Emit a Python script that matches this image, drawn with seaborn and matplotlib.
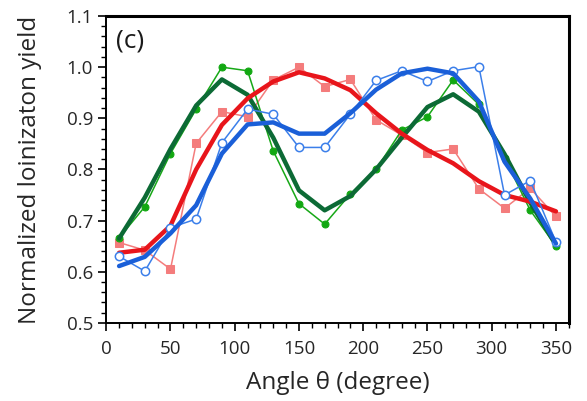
import numpy as np
import pandas as pd
import seaborn as sns
import matplotlib.pyplot as plt
from matplotlib.ticker import MultipleLocator

# angles (degree)
angle = [10, 30, 50, 70, 90, 110, 130, 150, 170, 190, 210, 230, 250, 270, 290, 310, 330, 350]

# green: measured (dots) and smoothed (thick)
green_pts = [0.666, 0.727, 0.831, 0.918, 1.000, 0.993, 0.836, 0.733, 0.693, 0.752, 0.800, 0.877,
             0.903, 0.975, 0.927, 0.822, 0.720, 0.650]
green_fit = [0.665, 0.745, 0.840, 0.925, 0.976, 0.946, 0.862, 0.759, 0.720, 0.748, 0.800, 0.862,
             0.922, 0.947, 0.913, 0.830, 0.735, 0.652]

# red: measured (squares) and smoothed (thick)
red_pts = [0.657, 0.642, 0.605, 0.851, 0.913, 0.903, 0.975, 1.000, 0.962, 0.976, 0.897, 0.867,
           0.833, 0.840, 0.762, 0.724, 0.763, 0.708]
red_fit = [0.637, 0.643, 0.690, 0.800, 0.887, 0.939, 0.972, 0.990, 0.978, 0.955, 0.910, 0.870,
           0.838, 0.812, 0.777, 0.750, 0.737, 0.718]

# blue: measured (open circles) and smoothed (thick)
blue_pts = [0.630, 0.601, 0.686, 0.703, 0.852, 0.918, 0.908, 0.843, 0.843, 0.908, 0.974, 0.993,
            0.972, 0.993, 1.001, 0.750, 0.778, 0.658]
blue_fit = [0.611, 0.629, 0.675, 0.730, 0.831, 0.888, 0.892, 0.870, 0.870, 0.910, 0.956, 0.988,
            0.997, 0.988, 0.933, 0.815, 0.743, 0.655]

sns.set_style("ticks")
plt.rcParams['font.family'] = ['Open Sans', 'DejaVu Sans']

fig = plt.figure(figsize=(5.87, 4.01), dpi=100)
ax = fig.add_axes([0.181, 0.195, 0.788, 0.765])

sns.lineplot(x=angle, y=red_pts, ax=ax, color='#f47c7c', lw=1.1, marker='s', ms=6,
             mec='#f47c7c', mfc='#f47c7c')
sns.lineplot(x=angle, y=green_pts, ax=ax, color='#17a817', lw=1.1, marker='o', ms=5,
             mec='#12a812', mfc='#12a812')
sns.lineplot(x=angle, y=green_fit, ax=ax, color='#0c6a35', lw=3.2)
sns.lineplot(x=angle, y=red_fit, ax=ax, color='#e8151b', lw=3.2)
sns.lineplot(x=angle, y=blue_pts, ax=ax, color='#3b7fea', lw=1.1, marker='o', ms=6,
             mec='#3b7fea', mfc='white', mew=1.1)
sns.lineplot(x=angle, y=blue_fit, ax=ax, color='#1a5fd8', lw=3.2)

ax.set_xlim(0, 360)
ax.set_ylim(0.5, 1.1)
ax.xaxis.set_major_locator(MultipleLocator(50))
ax.xaxis.set_minor_locator(MultipleLocator(10))
ax.yaxis.set_major_locator(MultipleLocator(0.1))
ax.yaxis.set_minor_locator(MultipleLocator(0.02))
ax.yaxis.set_major_formatter(plt.FormatStrFormatter('%.1f'))
ax.tick_params(which='major', length=5.5, width=1.2, labelsize=13.5, color='black')
ax.tick_params(which='minor', length=3.5, width=1.0, color='black')
ax.tick_params(axis='x', which='major', pad=7)
ax.tick_params(axis='y', which='major', pad=4)

for side in ['left', 'bottom']:
    ax.spines[side].set_linewidth(1.4)
for side in ['top', 'right']:
    ax.spines[side].set_visible(True)
    ax.spines[side].set_linewidth(2.2)
for sp in ax.spines.values():
    sp.set_color('black')

ax.set_xlabel("Angle θ (degree)", fontsize=17.5, labelpad=9)
ax.set_ylabel("Normalized loinizaton yield", fontsize=17.5, labelpad=18)
ax.text(0.022, 0.96, "(c)", transform=ax.transAxes, fontsize=19, va='top', ha='left',
        color='#1a1a1a')

fig.savefig("out.png", dpi=100)
